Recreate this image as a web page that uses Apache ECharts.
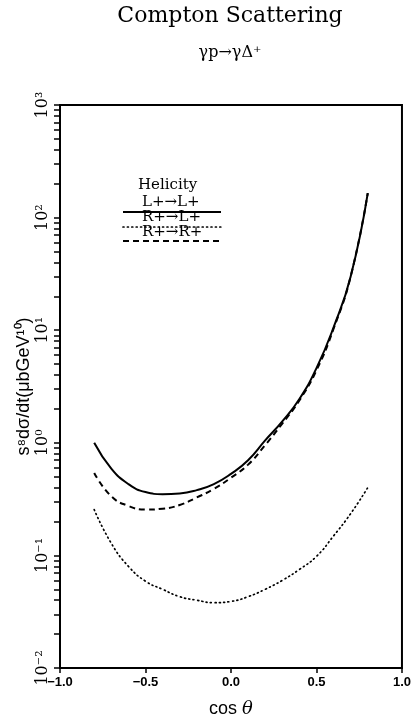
<!DOCTYPE html>
<html>
<head>
<meta charset="utf-8">
<script src="https://cdn.jsdelivr.net/npm/echarts@6/dist/echarts.min.js"></script>
<style>
  html, body { margin: 0; padding: 0; background: #fff; }
  #chart { width: 414px; height: 723px; }
</style>
</head>
<body>
<div id="chart"></div>
<script>
// cos(theta) sample points for the three helicity amplitudes
const cosTheta = [-0.8, -0.7, -0.6, -0.5, -0.4, -0.3, -0.2, -0.1, 0.0, 0.1, 0.2, 0.3, 0.4, 0.5, 0.6, 0.7, 0.8];

// s^8 dσ/dt (μb GeV^10)
const llValues = [1.0, 0.59, 0.43, 0.365, 0.35, 0.355, 0.38, 0.43, 0.53, 0.70, 1.05, 1.55, 2.45, 4.6, 10.6, 30, 165];
const rlValues = [0.255, 0.128, 0.080, 0.059, 0.050, 0.043, 0.040, 0.038, 0.039, 0.043, 0.050, 0.060, 0.075, 0.098, 0.149, 0.235, 0.40];
const rrValues = [0.54, 0.335, 0.275, 0.255, 0.26, 0.28, 0.327, 0.39, 0.49, 0.64, 0.955, 1.48, 2.38, 4.4, 10.3, 30, 165];

const seriesNames = ['L+\u2192L+', 'R+\u2192L+', 'R+\u2192R+'];

// axis ticks
const xTicks = [-1.0, -0.5, 0.0, 0.5, 1.0];
const yMajor = [0.01, 0.1, 1, 10, 100, 1000];
const yMajorLabels = ['10\u207B\u00B2', '10\u207B\u00B9', '10\u2070', '10\u00B9', '10\u00B2', '10\u00B3'];

// 1..9 within each decade for the tick marks
const yTickValues = [];
for (let d = -2; d <= 2; d++) {
  for (let m = 1; m <= 9; m++) yTickValues.push(+(m * Math.pow(10, d)).toPrecision(3));
}
yTickValues.push(1000);

const pairs = vals => cosTheta.map((c, i) => [c, vals[i]]);

const chart = echarts.init(document.getElementById('chart'), null, { renderer: 'canvas' });

const serif = 'DejaVu Serif';
const sans = 'Liberation Sans';
const keyFont = '15px "DejaVu Serif"';
const dotted = [1, 3.4];

chart.setOption({
  animation: false,
  backgroundColor: '#fff',
  grid: {
    left: 60, right: 12, top: 105, bottom: 49,
    show: true, borderColor: '#000', borderWidth: 2, backgroundColor: 'transparent'
  },
  xAxis: {
    type: 'value',
    min: -1, max: 1, interval: 0.5,
    name: '{a|cos }{b|\u03B8}',
    nameLocation: 'middle',
    nameGap: 32,
    nameTextStyle: {
      rich: {
        a: { fontFamily: sans, fontSize: 18, color: '#000' },
        b: { fontFamily: serif, fontSize: 18, fontStyle: 'italic', color: '#000' }
      }
    },
    axisLine: { onZero: false, lineStyle: { color: '#000', width: 2 } },
    axisTick: { inside: false, length: 5, lineStyle: { color: '#000', width: 1.5 } },
    splitLine: { show: false },
    axisLabel: {
      customValues: xTicks,
      margin: 8,
      fontFamily: sans, fontSize: 13, fontWeight: 'bold', color: '#000',
      formatter: v => (v < 0 ? '\u2212' : '') + Math.abs(v).toFixed(1)
    }
  },
  yAxis: {
    type: 'log',
    logBase: 10,
    min: 0.01, max: 1000,
    name: 's\u2078d\u03C3/dt(\u03BCbGeV\u00B9\u2070)',
    nameLocation: 'middle',
    nameRotate: 90,
    nameGap: 27,
    nameMoveOverlap: false,
    nameTextStyle: { fontFamily: sans, fontSize: 18, color: '#000' },
    axisLine: { onZero: false, lineStyle: { color: '#000', width: 2 } },
    axisTick: { customValues: yTickValues, length: 6, lineStyle: { color: '#000', width: 1.5 } },
    splitLine: { show: false },
    minorTick: { show: false },
    axisLabel: {
      customValues: yMajor,
      rotate: 90,
      margin: 9,
      fontFamily: serif, fontSize: 16, color: '#000',
      formatter: v => yMajorLabels[yMajor.findIndex(m => Math.abs(m - v) / m < 1e-6)] || ''
    }
  },
  series: [
    {
      name: seriesNames[0], type: 'line', smooth: true, showSymbol: false,
      data: pairs(llValues),
      lineStyle: { color: '#000', width: 2, type: 'solid' }
    },
    {
      name: seriesNames[1], type: 'line', smooth: true, showSymbol: false,
      data: pairs(rlValues),
      lineStyle: { color: '#000', width: 1.7, type: dotted, cap: 'round' }
    },
    {
      name: seriesNames[2], type: 'line', smooth: true, showSymbol: false,
      data: pairs(rrValues),
      lineStyle: { color: '#000', width: 2, type: [6, 4] }
    }
  ],
  graphic: [
    // heading and reaction
    { type: 'text', x: 230, y: 16, style: { text: 'Compton Scattering', font: '22px "DejaVu Serif"', fill: '#000', align: 'center', verticalAlign: 'middle' } },
    { type: 'text', x: 230, y: 53, style: { text: '\u03B3p\u2192\u03B3\u0394\u207A', font: '16px "DejaVu Serif"', fill: '#000', align: 'center', verticalAlign: 'middle' } },
    // key: one row per helicity combination, sample line drawn under each label
    { type: 'text', left: 138, top: 178, style: { text: 'Helicity', font: keyFont, fill: '#000' } },
    { type: 'text', left: 142, top: 195, style: { text: seriesNames[0], font: keyFont, fill: '#000' } },
    { type: 'line', shape: { x1: 123, y1: 212, x2: 221, y2: 212 }, style: { stroke: '#000', lineWidth: 2 } },
    { type: 'text', left: 142, top: 210, style: { text: seriesNames[1], font: keyFont, fill: '#000' } },
    { type: 'line', shape: { x1: 123, y1: 227, x2: 221, y2: 227 }, style: { stroke: '#000', lineWidth: 1.7, lineDash: dotted, lineCap: 'round' } },
    { type: 'text', left: 142, top: 225, style: { text: seriesNames[2], font: keyFont, fill: '#000' } },
    { type: 'line', shape: { x1: 123, y1: 241, x2: 221, y2: 241 }, style: { stroke: '#000', lineWidth: 2, lineDash: [6, 4] } }
  ]
});
</script>
</body>
</html>
